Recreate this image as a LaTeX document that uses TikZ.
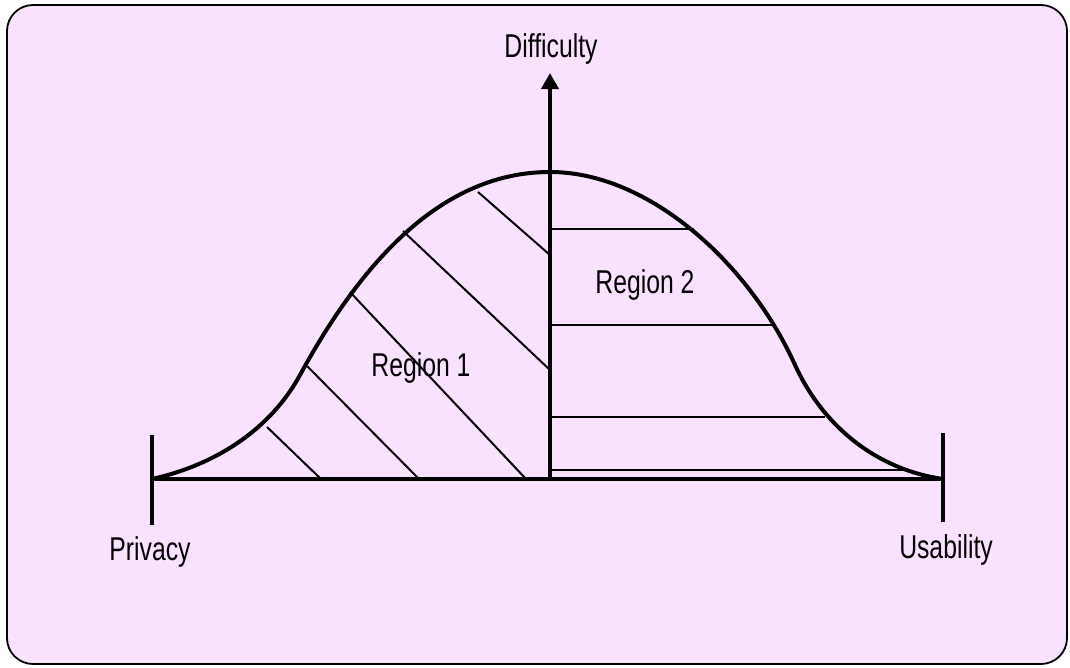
\documentclass[tikz,border=0pt]{standalone}
\usepackage{fontspec}
\usetikzlibrary{arrows.meta}
\newfontfamily\labelfont[FakeStretch=0.75]{Liberation Sans}
\definecolor{bgpink}{RGB}{249, 226, 253}

\begin{document}
\begin{tikzpicture}[x=1pt, y=-1pt,
    axis/.style={line width=4pt},
    hatch/.style={line width=2pt},
    curve/.style={line width=4pt, line join=round},
    lbl/.style={font={\fontsize{33}{38}\labelfont}, inner sep=0pt, anchor=base}]
      \useasboundingbox (0,0) rectangle (1070,667);

      % frame
      \draw[fill=bgpink, draw=black, line width=1.8pt, rounded corners=26pt]
        (7,5) rectangle (1067,664);

      % axis end points
      \coordinate (origin) at (550,479);
      \coordinate (left) at (152,479);
      \coordinate (right) at (943,479);
      \coordinate (top) at (550,73);
      \coordinate (lefttop) at (152,435);
      \coordinate (leftbot) at (152,525);
      \coordinate (righttop) at (943,433);
      \coordinate (rightbot) at (943,522);

      % hatching, region 1 (diagonal)
      \foreach \xa/\ya/\xb/\yb in {267/427/322/480, 307/366/420/480, 350/292/526/479,
                                   403/231/550/370, 478/192/550/255} {
        \draw[hatch] (\xa,\ya) -- (\xb,\yb);
      }

      % hatching, region 2 (horizontal)
      \foreach \y/\xe in {229/694, 325/773, 417/825, 470/907} {
        \draw[hatch] (550,\y) -- (\xe,\y);
      }

      % bell curve
      \draw[curve] (left) .. controls (215,465) and (270,430) .. (300,375)
        .. controls (360,265) and (440,172) .. (550,172)
        .. controls (650,172) and (750,265) .. (795,365)
        .. controls (825,430) and (880,470) .. (right);

      % axes
      \draw[axis] (left) -- (right);
      \draw[axis] (lefttop) -- (leftbot);
      \draw[axis] (righttop) -- (rightbot);
      \draw[axis, -{Triangle[width=17pt, length=16pt]}] (origin) -- (top);

      % labels
      \node[lbl] (difficulty) at (551,57) {Difficulty};
      \node[lbl] (privacy) at (150,560) {Privacy};
      \node[lbl] (usability) at (946,558) {Usability};
      \node[lbl] (region1) at (421,376) {Region 1};
      \node[lbl] (region2) at (645,293) {Region 2};
    \end{tikzpicture}
\end{document}
